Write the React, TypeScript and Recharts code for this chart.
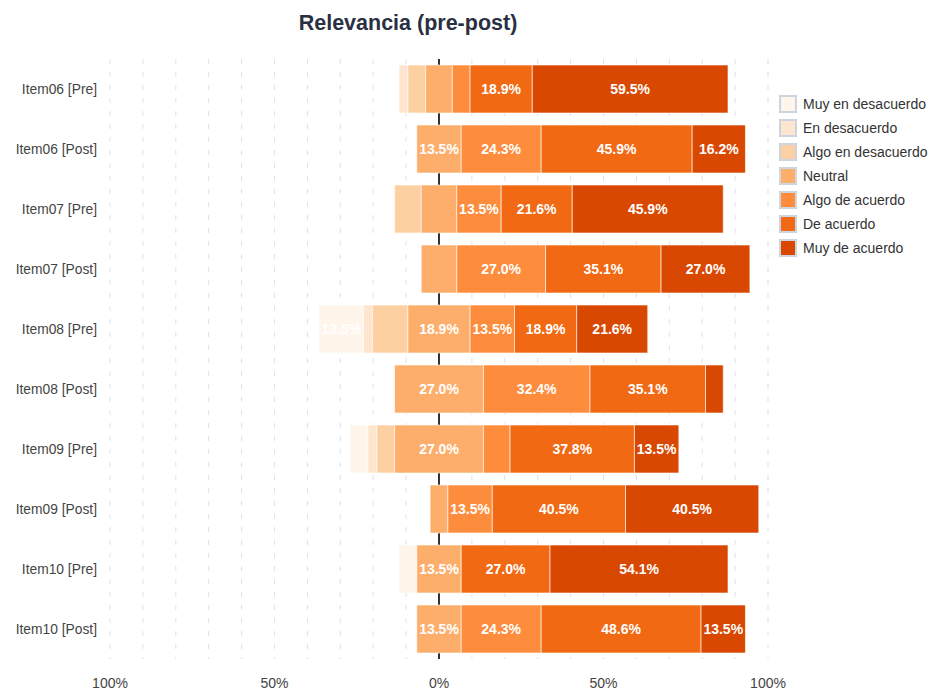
import React from 'react';
import { BarChart, Bar, XAxis, YAxis, CartesianGrid, LabelList } from 'recharts';

const categories = [
    'Item06 [Pre]', 'Item06 [Post]', 'Item07 [Pre]', 'Item07 [Post]', 'Item08 [Pre]',
    'Item08 [Post]', 'Item09 [Pre]', 'Item09 [Post]', 'Item10 [Pre]', 'Item10 [Post]',
];

// percentages per answer level, same order as categories
const muyEnDesacuerdo = [0, 0, 0, 0, 13.5, 0, 5.4, 0, 5.4, 0];
const enDesacuerdo = [2.7, 0, 0, 0, 2.7, 0, 2.7, 0, 0, 0];
const algoEnDesacuerdo = [5.4, 0, 8.1, 0, 10.8, 0, 5.4, 0, 0, 0];
const neutral = [8.1, 13.5, 10.8, 10.8, 18.9, 27.0, 27.0, 5.4, 13.5, 13.5];
const algoDeAcuerdo = [5.4, 24.3, 13.5, 27.0, 13.5, 32.4, 8.1, 13.5, 0, 24.3];
const deAcuerdo = [18.9, 45.9, 21.6, 35.1, 18.9, 35.1, 37.8, 40.5, 27.0, 48.6];
const muyDeAcuerdo = [59.5, 16.2, 45.9, 27.0, 21.6, 5.4, 13.5, 40.5, 54.1, 13.5];

const axisTicks = [-100, -50, 0, 50, 100];
const gridTicks = [-100, -90, -80, -70, -60, -50, -40, -30, -20, -10, 10, 20, 30, 40, 50, 60, 70, 80, 90, 100];

const series = [
    { key: 'muyEnDesacuerdo', name: 'Muy en desacuerdo', color: '#fff5eb', values: muyEnDesacuerdo },
    { key: 'enDesacuerdo', name: 'En desacuerdo', color: '#fee6ce', values: enDesacuerdo },
    { key: 'algoEnDesacuerdo', name: 'Algo en desacuerdo', color: '#fdd0a2', values: algoEnDesacuerdo },
    { key: 'neutral', name: 'Neutral', color: '#fdae6b', values: neutral },
    { key: 'algoDeAcuerdo', name: 'Algo de acuerdo', color: '#fd8d3c', values: algoDeAcuerdo },
    { key: 'deAcuerdo', name: 'De acuerdo', color: '#f16913', values: deAcuerdo },
    { key: 'muyDeAcuerdo', name: 'Muy de acuerdo', color: '#d94801', values: muyDeAcuerdo },
];

// invisible offset so that the neutral block sits centred on 0
const data = categories.map((name, i) => {
    const row: any = {
        name,
        base: -(muyEnDesacuerdo[i] + enDesacuerdo[i] + algoEnDesacuerdo[i] + neutral[i] / 2),
    };
    series.forEach(s => { row[s.key] = s.values[i]; });
    return row;
});

const FONT = '"Liberation Sans", Arial, sans-serif';

const segLabel = (props: any) => {
    const { x, y, width, height, value } = props;
    const v = Array.isArray(value) ? value[1] - value[0] : Number(value);
    if (!v || v < 12) return null;
    return (
        <text
            x={x + width / 2}
            y={y + height / 2}
            fill="#fff"
            fontSize={14}
            fontWeight="bold"
            fontFamily={FONT}
            textAnchor="middle"
            dominantBaseline="central"
        >
            {v.toFixed(1)}%
        </text>
    );
};

const LegendBox = () => (
    <div style={{ position: 'absolute', left: 779, top: 92, fontFamily: FONT, fontSize: 14, color: '#333' }}>
        {series.map(s => (
            <div key={s.key} style={{ display: 'flex', alignItems: 'center', height: 24 }}>
                <span style={{ width: 14, height: 14, background: s.color, border: '2px solid #cdd5e1', marginRight: 6, display: 'inline-block' }} />
                <span>{s.name}</span>
            </div>
        ))}
    </div>
);

export default function App() {
    return (
        <div style={{ position: 'absolute', left: 0, top: 0, width: 933, height: 691, background: '#fff' }}>
            <div style={{ position: 'absolute', left: 0, top: 11, width: 816, textAlign: 'center', fontFamily: FONT, fontSize: 21.5, fontWeight: 'bold', color: '#2a3042' }}>
                Relevancia (pre-post)
            </div>
            <BarChart
                width={933}
                height={691}
                data={data}
                layout="vertical"
                margin={{ top: 59, right: 165, bottom: 2, left: 8 }}
                barCategoryGap="10%"
            >
                <CartesianGrid horizontal={false} verticalValues={gridTicks} stroke="#dde1e8" strokeDasharray="5 8" />
                <CartesianGrid horizontal={false} verticalValues={[0]} stroke="#333" strokeWidth={2} />
                <XAxis
                    type="number"
                    domain={[-100, 100]}
                    ticks={axisTicks}
                    interval={0}
                    tickFormatter={(v: number) => `${Math.abs(v)}%`}
                    axisLine={false}
                    tickLine={false}
                    tickMargin={13}
                    height={30}
                    tick={{ fill: '#444', fontSize: 14, fontFamily: FONT }}
                />
                <YAxis
                    type="category"
                    dataKey="name"
                    width={102}
                    axisLine={false}
                    tickLine={false}
                    tickMargin={7}
                    tick={{ fill: '#444', fontSize: 13.8, fontFamily: FONT }}
                />
                <Bar dataKey="base" stackId="a" fill="transparent" legendType="none" isAnimationActive={false} />
                {series.map(s => (
                    <Bar
                        key={s.key}
                        dataKey={s.key}
                        name={s.name}
                        stackId="a"
                        fill={s.color}
                        stroke="rgba(255,255,255,0.6)"
                        strokeWidth={1}
                        isAnimationActive={false}
                    >
                        <LabelList dataKey={s.key} content={segLabel} />
                    </Bar>
                ))}
            </BarChart>
            <LegendBox />
        </div>
    );
}
